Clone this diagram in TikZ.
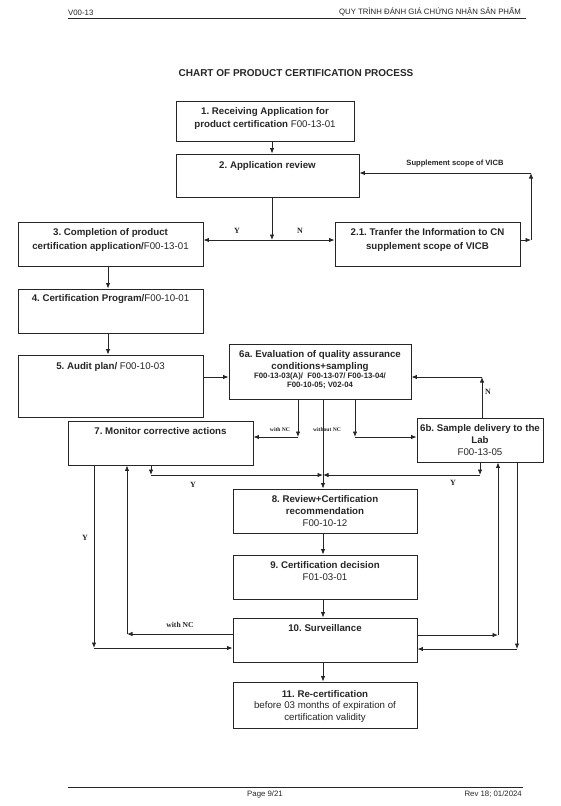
\documentclass[tikz,border=0pt]{standalone}
\usepackage{fontspec}
\setmainfont{Liberation Sans}
\newfontfamily\tnr{Liberation Serif}
\usetikzlibrary{arrows.meta}
\definecolor{ink}{HTML}{262626}
\frenchspacing
\begin{document}
\begin{tikzpicture}[x=1pt,y=-1pt,
  boxst/.style={draw=ink, line width=0.9pt, inner sep=0pt},
  tx/.style={anchor=base, inner sep=0pt, text=ink, font=\fontsize{9.7}{11.5}\selectfont},
  sm/.style={anchor=base, inner sep=0pt, text=ink, font=\fontsize{7.8}{9}\selectfont\bfseries},
  hd/.style={inner sep=0pt, text=ink, font=\fontsize{7.8}{9}\selectfont},
  lab/.style={anchor=base, inner sep=0pt, text=ink, font=\tnr\fontsize{8}{9}\selectfont\bfseries},
  tiny/.style={anchor=base, inner sep=0pt, text=ink, font=\tnr\fontsize{5.6}{7}\selectfont\bfseries},
  conn/.style={draw=ink, line width=0.8pt},
  arr/.style={conn, -{Latex[length=5.5pt,width=4.4pt]}}]
\useasboundingbox (0,0) rectangle (560,806);
\fill[white] (0,0) rectangle (560,806);
% header
\node[hd, anchor=base west] (hl) at (68,15.5) {V00-13};
\node[hd, anchor=base east] (hr) at (521,14) {QUY TRÌNH ĐÁNH GIÁ CHỨNG NHẬN SẢN PHẨM};
\coordinate (hrl) at (68,18);
\coordinate (hrr) at (526,18);
\draw[line width=0.9pt, ink] (hrl) -- (hrr);
% title
\node[tx, font=\fontsize{10}{12}\selectfont\bfseries] (title) at (296,76.5) {CHART OF PRODUCT CERTIFICATION PROCESS};
% boxes
\node[boxst, minimum width=178pt, minimum height=40pt] (b1) at (265,121) {};
\node[boxst, minimum width=183pt, minimum height=43pt] (b2) at (267.5,175.5) {};
\node[boxst, minimum width=185pt, minimum height=44pt] (b3) at (110.5,244) {};
\node[boxst, minimum width=185pt, minimum height=44pt] (b21) at (427.5,244) {};
\node[boxst, minimum width=185pt, minimum height=44pt] (b4) at (110.5,311) {};
\node[boxst, minimum width=185pt, minimum height=62pt] (b5) at (110.5,386) {};
\node[boxst, minimum width=182pt, minimum height=55pt] (b6a) at (320,371.5) {};
\node[boxst, minimum width=185pt, minimum height=44pt] (b7) at (160.5,443) {};
\node[boxst, minimum width=126pt, minimum height=44pt] (b6b) at (480,440) {};
\node[boxst, minimum width=184pt, minimum height=44pt] (b8) at (325,511) {};
\node[boxst, minimum width=184pt, minimum height=44pt] (b9) at (325,577) {};
\node[boxst, minimum width=184pt, minimum height=44pt] (b10) at (325,640) {};
\node[boxst, minimum width=184pt, minimum height=46pt] (b11) at (325,705) {};
% texts
\node[tx] (t1a) at (265,114.5) {\textbf{1. Receiving Application for}};
\node[tx] (t1b) at (265,127.5) {\textbf{product certification} F00-13-01};
\node[tx] (t2) at (267.5,168.5) {\textbf{2. Application review}};
\node[tx] (t3a) at (110.5,235.5) {\textbf{3. Completion of product}};
\node[tx] (t3b) at (110.5,249) {\textbf{certification application/}F00-13-01};
\node[tx] (t21a) at (427.5,235.5) {\textbf{2.1. Tranfer the Information to CN}};
\node[tx] (t21b) at (427.5,249) {\textbf{supplement scope of VICB}};
\node[tx] (t4) at (110.5,301.5) {\textbf{4. Certification Program/}F00-10-01};
\node[tx] (t5) at (110.5,369.5) {\textbf{5. Audit plan/} F00-10-03};
\node[tx] (t6a1) at (320,357.5) {\textbf{6a. Evaluation of quality assurance}};
\node[tx] (t6a2) at (320,369.5) {\textbf{conditions+sampling}};
\node[sm] (t6a3) at (320,378.5) {F00-13-03(A)/\ \ F00-13-07/ F00-13-04/};
\node[sm] (t6a4) at (320,387) {F00-10-05; V02-04};
\node[tx] (t7) at (160.5,434.5) {\textbf{7. Monitor corrective actions}};
\node[tx] (t6b1) at (480,431.5) {\textbf{6b. Sample delivery to the}};
\node[tx] (t6b2) at (480,443.5) {\textbf{Lab}};
\node[tx] (t6b3) at (480,455.5) {F00-13-05};
\node[tx] (t8a) at (325,502.5) {\textbf{8. Review+Certification}};
\node[tx] (t8b) at (325,514.5) {\textbf{recommendation}};
\node[tx] (t8c) at (325,526) {F00-10-12};
\node[tx] (t9a) at (325,568.5) {\textbf{9. Certification decision}};
\node[tx] (t9b) at (325,580.5) {F01-03-01};
\node[tx] (t10) at (325,631.5) {\textbf{10. Surveillance}};
\node[tx] (t11a) at (325,697.5) {\textbf{11. Re-certification}};
\node[tx] (t11b) at (325,708.5) {before 03 months of expiration of};
\node[tx] (t11c) at (325,720.5) {certification validity};
% junction coordinates
\coordinate (J1) at (272,240);
\coordinate (S1) at (531,240);
\coordinate (S2) at (531,173);
\coordinate (N2) at (482,377);
\coordinate (W1) at (298,437);
\coordinate (J2) at (323,475);
\coordinate (W3) at (355,437);
\coordinate (K1) at (151,475);
\coordinate (K2) at (480,475);
\coordinate (Y1) at (94,648);
\coordinate (C1) at (127,634);
\coordinate (R1) at (498,635);
\coordinate (R2) at (517,649);
\coordinate (d3) at (108,0);
% connectors
\draw[arr] (b1.south -| J1) -- (b2.north -| J1);
\draw[arr] (b2.south -| J1) -- (J1);
\draw[arr] (J1) -- (b3.east |- J1);
\draw[arr] (J1) -- (b21.west |- J1);
\draw[arr] (b21.east |- S1) -- (S1);
\draw[arr] (S1) -- (S2);
\draw[arr] (S2) -- (b2.east |- S2);
\draw[arr] (b3.south -| d3) -- (b4.north -| d3);
\draw[arr] (b4.south -| d3) -- (b5.north -| d3);
\draw[arr] (b5.east |- N2) -- (b6a.west |- N2);
\draw[arr] (b6b.north -| N2) -- (N2);
\draw[arr] (N2) -- (b6a.east |- N2);
\draw[arr] (b6a.south -| W1) -- (W1);
\draw[arr] (W1) -- (b7.east |- W1);
\draw[arr] (b6a.south -| J2) -- (b8.north -| J2);
\draw[arr] (b6a.south -| W3) -- (W3);
\draw[arr] (W3) -- (b6b.west |- W3);
\draw[arr] (b7.south -| K1) -- (K1);
\draw[arr] (K1) -- (J2);
\draw[arr] (b6b.south -| K2) -- (K2);
\draw[arr] (K2) -- (J2);
\draw[arr] (b8.south -| J2) -- (b9.north -| J2);
\draw[arr] (b9.south -| J2) -- (b10.north -| J2);
\draw[arr] (b10.south -| J2) -- (b11.north -| J2);
\draw[arr] (b7.south -| Y1) -- (Y1);
\draw[arr] (Y1) -- (b10.west |- Y1);
\draw[arr] (b10.west |- C1) -- (C1);
\draw[arr] (C1) -- (b7.south -| C1);
\draw[arr] (b10.east |- R1) -- (R1);
\draw[arr] (R1) -- (b6b.south -| R1);
\draw[arr] (b6b.south -| R2) -- (R2);
\draw[arr] (R2) -- (b10.east |- R2);
% labels
\node[lab] (lY1) at (237,233) {Y};
\node[lab] (lN1) at (300,233) {N};
\node[sm, font=\fontsize{7.6}{9}\selectfont\bfseries] (lsup) at (455,165) {Supplement scope of VICB};
\node[lab] (lN2) at (488,394.5) {N};
\node[tiny] (lwnc) at (280,431) {with NC};
\node[tiny] (lwonc) at (327,431) {without NC};
\node[lab] (lY2) at (193,487) {Y};
\node[lab] (lY3) at (453,485) {Y};
\node[lab] (lY4) at (85,540) {Y};
\node[lab, font=\tnr\fontsize{7.6}{9}\selectfont\bfseries] (lwnc2) at (180,627) {with NC};
% footer
\coordinate (frl) at (68,787);
\coordinate (frr) at (523,787);
\draw[line width=0.9pt, ink] (frl) -- (frr);
\node[hd, anchor=base] (fp) at (265,796) {Page 9/21};
\node[hd, anchor=base east] (fr) at (522,796) {Rev 18; 01/2024};
\end{tikzpicture}
\end{document}
